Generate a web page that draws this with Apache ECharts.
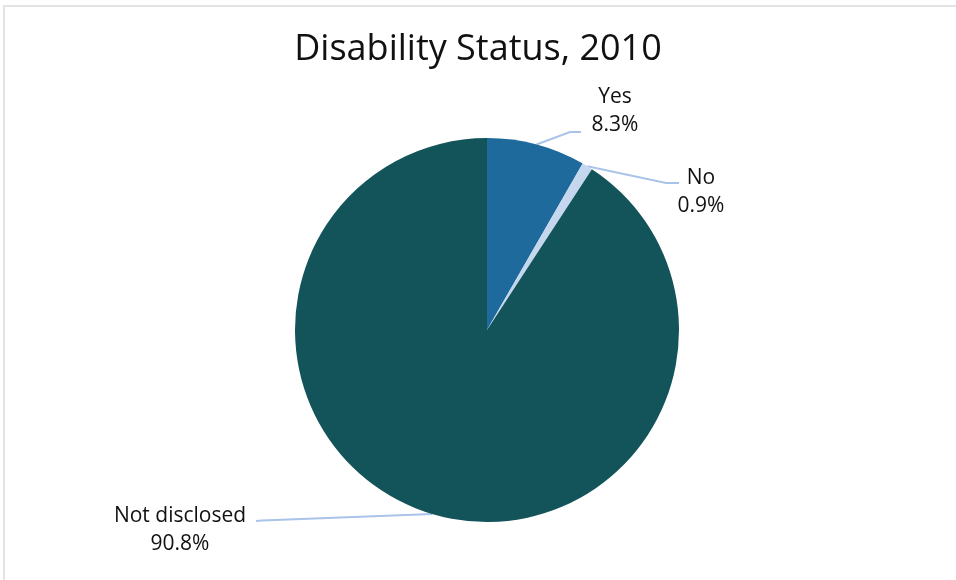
<!DOCTYPE html>
<html>
<head>
<meta charset="utf-8">
<script src="https://cdn.jsdelivr.net/npm/echarts@6/dist/echarts.min.js"></script>
<style>
html,body{margin:0;padding:0;background:#fff;}
#chart{width:956px;height:580px;}
</style>
</head>
<body>
<div id="chart"></div>
<script>
const titleText = 'Disability Status, 2010';
const categories = ['Yes', 'No', 'Not disclosed'];
const values = [8.3, 0.9, 90.8];
const colors = ['#1e6a9c', '#c5d7ee', '#13545a'];

// label placement (layout only): label centre and leader-line elbow/end
const labelPlacement = [
  {x: 615, y: 111, elbow: [570, 132], end: [581, 132]},
  {x: 701, y: 192, elbow: [666, 183], end: [679, 183]},
  {x: 180, y: 530, elbow: [262, 520.5], end: [256, 521]}
];

const chart = echarts.init(document.getElementById('chart'), null, {renderer: 'canvas'});
const FONT = '"Open Sans", Lato, sans-serif';

chart.setOption({
  backgroundColor: '#ffffff',
  animation: false,
  title: {
    text: titleText,
    left: 'center',
    top: 27,
    textStyle: {fontFamily: FONT, fontSize: 36, fontWeight: 'normal', color: '#111'}
  },
  graphic: [{
    type: 'rect',
    shape: {x: 4, y: 6, width: 960, height: 590},
    style: {fill: 'none', stroke: '#e3e3e3', lineWidth: 2},
    silent: true
  }],
  series: [{
    type: 'pie',
    center: [487, 330],
    radius: 192,
    startAngle: 90,
    clockwise: true,
    percentPrecision: 1,
    data: categories.map((c, i) => ({name: c, value: values[i], itemStyle: {color: colors[i]}})),
    label: {
      show: true,
      formatter: '{b}\n{d}%',
      fontFamily: FONT,
      fontSize: 21,
      lineHeight: 28,
      color: '#111',
      align: 'center'
    },
    labelLine: {
      show: true,
      length: 20,
      length2: 10,
      lineStyle: {color: '#a9c4e8', width: 2}
    },
    labelLayout: function (params) {
      const p = labelPlacement[params.dataIndex];
      const start = params.labelLinePoints ? params.labelLinePoints[0] : p.elbow;
      return {
        x: p.x,
        y: p.y,
        align: 'center',
        verticalAlign: 'middle',
        labelLinePoints: [start, p.elbow, p.end]
      };
    },
    emphasis: {disabled: true}
  }]
});
</script>
</body>
</html>
